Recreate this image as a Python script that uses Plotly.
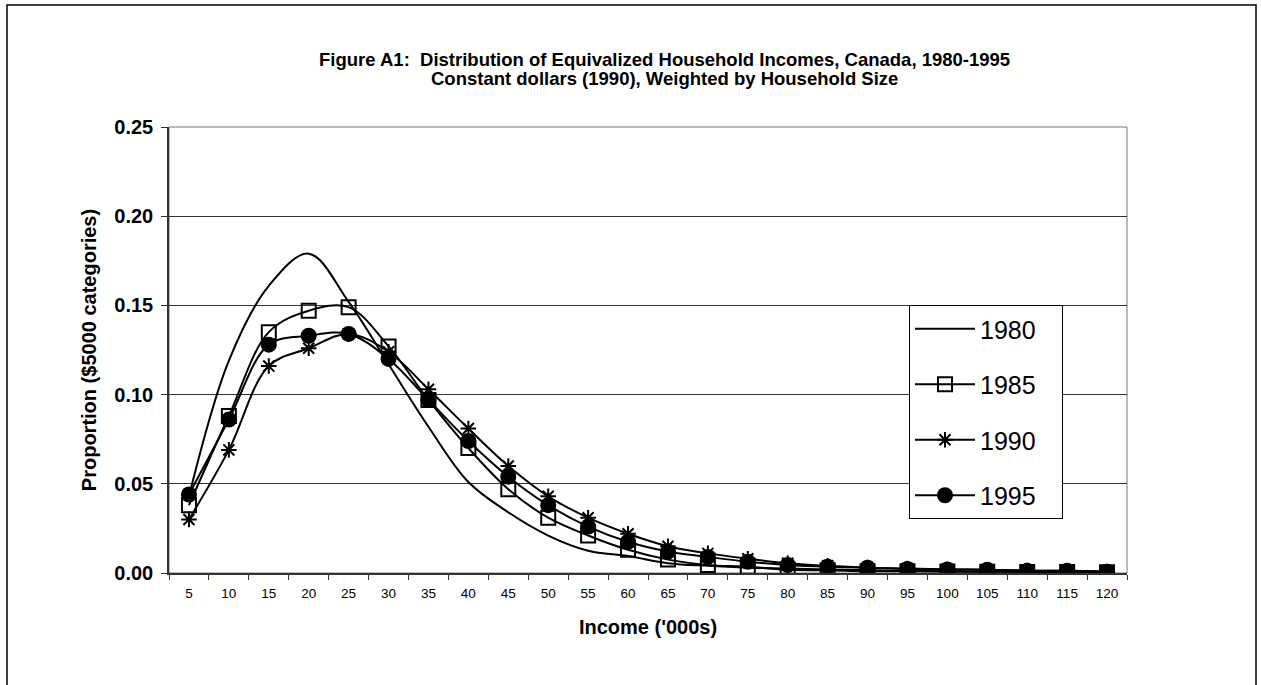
import plotly.graph_objects as go

income = [5, 10, 15, 20, 25, 30, 35, 40, 45, 50, 55, 60, 65, 70, 75, 80,
          85, 90, 95, 100, 105, 110, 115, 120]
income_labels = [str(v) for v in income]

y1980 = [0.043, 0.119, 0.161, 0.179, 0.152, 0.117, 0.082, 0.051, 0.034, 0.021,
         0.0125, 0.0095, 0.0055, 0.004, 0.003, 0.0025, 0.002, 0.0015, 0.0012,
         0.001, 0.0008, 0.0006, 0.0005, 0.0004]
y1985 = [0.038, 0.088, 0.135, 0.147, 0.149, 0.127, 0.097, 0.070, 0.047, 0.031,
         0.021, 0.013, 0.0075, 0.0045, 0.0035, 0.0018, 0.0015, 0.001, 0.001,
         0.0008, 0.0007, 0.0006, 0.0005, 0.0004]
y1990 = [0.030, 0.069, 0.116, 0.126, 0.134, 0.124, 0.103, 0.081, 0.060, 0.043,
         0.031, 0.022, 0.015, 0.011, 0.008, 0.0055, 0.004, 0.003, 0.0025,
         0.002, 0.0018, 0.0014, 0.0012, 0.0008]
y1995 = [0.044, 0.086, 0.128, 0.133, 0.134, 0.120, 0.097, 0.074, 0.054, 0.038,
         0.026, 0.0175, 0.012, 0.009, 0.0063, 0.0045, 0.0035, 0.003, 0.0022,
         0.002, 0.0018, 0.0012, 0.0012, 0.0007]

series_names = ["1980", "1985", "1990", "1995"]

title_line1 = "Figure A1:  Distribution of Equivalized Household Incomes, Canada, 1980-1995"
title_line2 = "Constant dollars (1990), Weighted by Household Size"
x_title = "Income ('000s)"
y_title = "Proportion ($5000 categories)"

FONT = "Liberation Sans, Arial, sans-serif"
W, H = 1261, 685
L, R, T, B = 169, 1127, 127, 573

fig = go.Figure()
styles = [
    dict(mode="lines"),
    dict(mode="lines+markers",
         marker=dict(symbol="square-open", size=14, color="black",
                     line=dict(width=2, color="black"))),
    dict(mode="lines+markers",
         marker=dict(symbol="asterisk-open", size=13, color="black",
                     line=dict(width=2, color="black"))),
    dict(mode="lines+markers",
         marker=dict(symbol="circle", size=16, color="black",
                     line=dict(width=0, color="black"))),
]
for name, ys, kw in zip(series_names, [y1980, y1985, y1990, y1995], styles):
    fig.add_trace(go.Scatter(
        x=income_labels, y=ys, name=name + "\u00a0\u00a0\u00a0", legendgroup=name,
        line=dict(color="black", width=2, shape="spline", smoothing=1),
        **kw))

pw, ph = R - L, B - T
def px_x(x):
    return (x - L) / pw
def px_y(y):
    return (B - y) / ph

fig.update_layout(
    width=W, height=H,
    margin=dict(l=L, r=W - R, t=T, b=H - B, pad=0),
    paper_bgcolor="white", plot_bgcolor="white",
    font=dict(family=FONT, color="black"),
    showlegend=True,
    legend=dict(
        x=px_x(909), y=px_y(305), xanchor="left", yanchor="top",
        xref="paper", yref="paper",
        bgcolor="white", bordercolor="black", borderwidth=1,
        font=dict(size=25, family=FONT, color="black"),
        traceorder="grouped", tracegroupgap=20, itemwidth=60,
    ),
    xaxis=dict(
        type="category", range=[-0.5, len(income) - 0.5],
        tickson="boundaries", ticks="outside", ticklen=5,
        tickcolor="#333", tickwidth=1,
        showline=True, linecolor="#333", linewidth=1.5, mirror=False,
        showgrid=False, zeroline=False,
        tickfont=dict(size=13.5, family=FONT), ticklabelstandoff=7,
        title=dict(text=x_title, font=dict(size=20, family=FONT, weight="bold"), standoff=20),
        automargin=False,
    ),
    yaxis=dict(
        range=[0, 0.25], dtick=0.05, tickformat=".2f",
        ticks="outside", ticklen=6, tickcolor="#333", tickwidth=1,
        showline=True, linecolor="#333", linewidth=1.5,
        showgrid=True, gridcolor="#333", gridwidth=1, zeroline=False,
        tickfont=dict(size=20, family=FONT, weight="bold"), ticklabelstandoff=4,
        title=dict(text=y_title, font=dict(size=20, family=FONT, weight="bold"), standoff=12),
        automargin=False,
    ),
    annotations=[
        dict(text=title_line1, x=px_x(664), y=px_y(60), xref="paper", yref="paper",
             xanchor="center", yanchor="middle", showarrow=False,
             font=dict(size=18.5, family=FONT, weight="bold")),
        dict(text=title_line2, x=px_x(664), y=px_y(78), xref="paper", yref="paper",
             xanchor="center", yanchor="middle", showarrow=False,
             font=dict(size=18.5, family=FONT, weight="bold")),
    ],
    shapes=[
        dict(type="rect", xref="paper", yref="paper", x0=0, x1=1, y0=0, y1=1,
             line=dict(color="#777", width=1), layer="below"),
        dict(type="rect", xref="paper", yref="paper",
             x0=px_x(7), x1=px_x(1256), y0=px_y(695), y1=px_y(5),
             line=dict(color="black", width=1.5)),
    ],
)

fig.write_html("out.html", config={"displayModeBar": False},
               post_script="document.body.style.margin='0';")
